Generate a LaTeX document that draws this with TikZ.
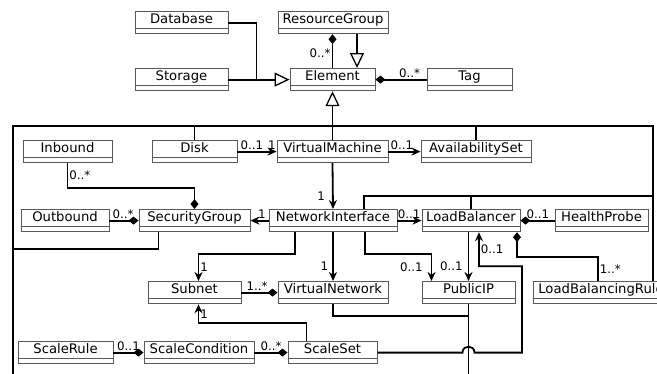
\documentclass[tikz,border=0pt]{standalone}
\usepackage{fontspec}
\setmainfont{DejaVu Sans}
\usetikzlibrary{shapes.multipart,arrows.meta}
\tikzset{
  cls/.style={rectangle split, rectangle split parts=2, draw=black!65, line width=0.9pt,
    inner xsep=0pt, inner ysep=2pt, text height=9.5pt, text depth=3pt, align=center,
    rectangle split empty part height=8.5pt, rectangle split empty part depth=0pt,
    font=\fontsize{13.2}{14}\selectfont, anchor=north},
  lbl/.style={font=\fontsize{11.8}{12}\selectfont, inner sep=1pt},
  conn/.style={line width=1.8pt},
  gen/.style={conn, -{Triangle[open, length=15pt, width=14pt, line width=1.3pt]}},
  nav/.style={conn, -{Stealth[length=9pt, width=8pt]}},
  comp/.style={conn, {Diamond[length=10pt, width=8pt]}-}
}
\begin{document}
\begin{tikzpicture}[x=1pt,y=-1pt]
\useasboundingbox (0,0) rectangle (657,373);
% classes
\node[cls, text width=93pt] (db) at (181.5,11) {Database\nodepart{two}};
\node[cls, text width=93pt] (storage) at (181.5,68) {Storage\nodepart{two}};
\node[cls, text width=110pt] (rg) at (333,11) {ResourceGroup\nodepart{two}};
\node[cls, text width=85pt] (elem) at (332.5,68) {Element\nodepart{two}};
\node[cls, text width=85pt] (tag) at (469.5,68) {Tag\nodepart{two}};
\node[cls, text width=89pt] (inbound) at (67.5,140) {Inbound\nodepart{two}};
\node[cls, text width=85pt] (disk) at (194.5,140) {Disk\nodepart{two}};
\node[cls, text width=111pt] (vm) at (332.5,140) {VirtualMachine\nodepart{two}};
\node[cls, text width=110pt] (avset) at (476,140) {AvailabilitySet\nodepart{two}};
\node[cls, text width=88pt] (outbound) at (65,209) {Outbound\nodepart{two}};
\node[cls, text width=111pt] (sg) at (194.5,209) {SecurityGroup\nodepart{two}};
\node[cls, text width=128pt] (ni) at (333,209) {NetworkInterface\nodepart{two}};
\node[cls, text width=98pt] (lb) at (471,209) {LoadBalancer\nodepart{two}};
\node[cls, text width=93pt] (hp) at (601.5,209) {HealthProbe\nodepart{two}};
\node[cls, text width=93pt] (subnet) at (194.5,281) {Subnet\nodepart{two}};
\node[cls, text width=110pt] (vnet) at (333,281) {VirtualNetwork\nodepart{two}};
\node[cls, text width=93pt] (pip) at (468.5,281) {PublicIP\nodepart{two}};
\node[cls, text width=136pt] (lbrule) at (601,281) {LoadBalancingRule\nodepart{two}};
\node[cls, text width=95pt] (srule) at (65.5,341) {ScaleRule\nodepart{two}};
\node[cls, text width=110pt] (scond) at (199,341) {ScaleCondition\nodepart{two}};
\node[cls, text width=89pt] (sset) at (332.5,341) {ScaleSet\nodepart{two}};

% generalisation into Element
\draw[conn] (db.east) -| ([xshift=28pt]storage.east);
\draw[gen] (storage.east) -- (elem.west);
\draw[gen] ([xshift=24pt]rg.south) -- ([xshift=24pt]rg.south |- elem.north);
\draw[comp] (elem.north |- rg.south) -- node[lbl, left, pos=0.55] (mRg) {0..*} (elem.north);
\draw[comp] (elem.east) -- node[lbl, above, pos=0.67] (mTag) {0..*} (tag.west);

% inheritance bus
\coordinate (busL) at (13,126);
\coordinate (busR) at (653,126);
\coordinate (busM) at (653,196);
\draw[conn] (busL |- 0,380) -- (busL) -- (busR) -- (busR |- lbrule.north);
\draw[gen] (vm.north) -- (elem.south);
\draw[conn] (disk.north) -- (disk.north |- busL);
\draw[conn] (avset.north) -- (avset.north |- busL);
\draw[conn] ([xshift=31pt]ni.north) |- (busM);
\draw[conn] (lb.north) -- (lb.north |- busM);
\draw[conn] ([xshift=-36pt]sg.south) -- ++(0,17) -| (busL);
\draw[conn] (vnet.south) |- ([yshift=-12pt]pip.south);
\draw[conn] (pip.south) -- ++(0,80);

% associations
\draw[nav] (disk.east) -- node[lbl, above, pos=0.37] (mDisk) {0..1}
  node[lbl, above, pos=0.88] (mVm) {1} (vm.west);
\draw[nav] (vm.east) -- node[lbl, above, pos=0.42] (mAv) {0..1} (avset.west);
\draw[nav] (vm.south) -- node[lbl, left, pos=0.73, xshift=-6pt] (mNi) {1} (ni.north);
\draw[nav] (ni.west) -- node[lbl, above, pos=0.37] (mSg) {1} (sg.east);
\draw[nav] (ni.east) -- node[lbl, above, pos=0.48] (mLb) {0..1} (lb.west);
\draw[comp] (lb.east) -- node[lbl, above, pos=0.51] (mHp) {0..1} (hp.west);
\draw[comp] (sg.west) -- node[lbl, above, pos=0.53] (mOut) {0..*} (outbound.east);
\draw[comp] (sg.north) -- ++(0,-21) -| node[lbl, right, pos=0.75] (mIn) {0..*} (inbound.south);
\draw[nav] ([xshift=-38pt]ni.south) |- ([xshift=4pt,yshift=27pt]subnet.north)
  -- node[lbl, right, pos=0.5] (mSub) {1} ([xshift=4pt]subnet.north);
\draw[nav] (ni.south) -- node[lbl, left, pos=0.7, xshift=-3pt] (mVn) {1} (vnet.north);
\draw[nav] ([xshift=32pt]ni.south) |- ([xshift=-37pt,yshift=27pt]pip.north)
  -- node[lbl, left, pos=0.5, xshift=-7pt] (mPip1) {0..1} ([xshift=-37pt]pip.north);
\draw[nav] (pip.north |- lb.south) -- node[lbl, left, pos=0.7, xshift=-4pt] (mPip2) {0..1} (pip.north);
\coordinate (hop) at (sset.east -| pip.south);
\draw[nav] (sset.east) -- ([xshift=-6pt]hop)
  .. controls ([xshift=-6pt,yshift=8pt]hop) and ([xshift=6pt,yshift=8pt]hop) .. ([xshift=6pt]hop)
  -| ([xshift=51pt,yshift=-34pt]lb.south)
  -| node[lbl, right, pos=0.75] (mSset) {0..1} ([xshift=8pt]lb.south);
\draw[comp] ([xshift=46pt]lb.south) |- ([xshift=-3pt,yshift=24pt]lbrule.north)
  -- node[lbl, right, pos=0.5] (mLbr) {1..*} ([xshift=-3pt]lbrule.north);
\draw[comp] (vnet.west) -- node[lbl, above, pos=0.57] (mVnet) {1..*} (subnet.east);
\draw[nav] ([xshift=-26pt]sset.north) |- ([xshift=4pt,yshift=-19pt]subnet.south)
  -- node[lbl, right, pos=0.5] (mSs) {1} ([xshift=4pt]subnet.south);
\draw[comp] (scond.west) -- node[lbl, above, pos=0.5] (mRule) {0..1} (srule.east);
\draw[comp] (sset.west) -- node[lbl, above, pos=0.5] (mCond) {0..*} (scond.east);
\end{tikzpicture}
\end{document}
